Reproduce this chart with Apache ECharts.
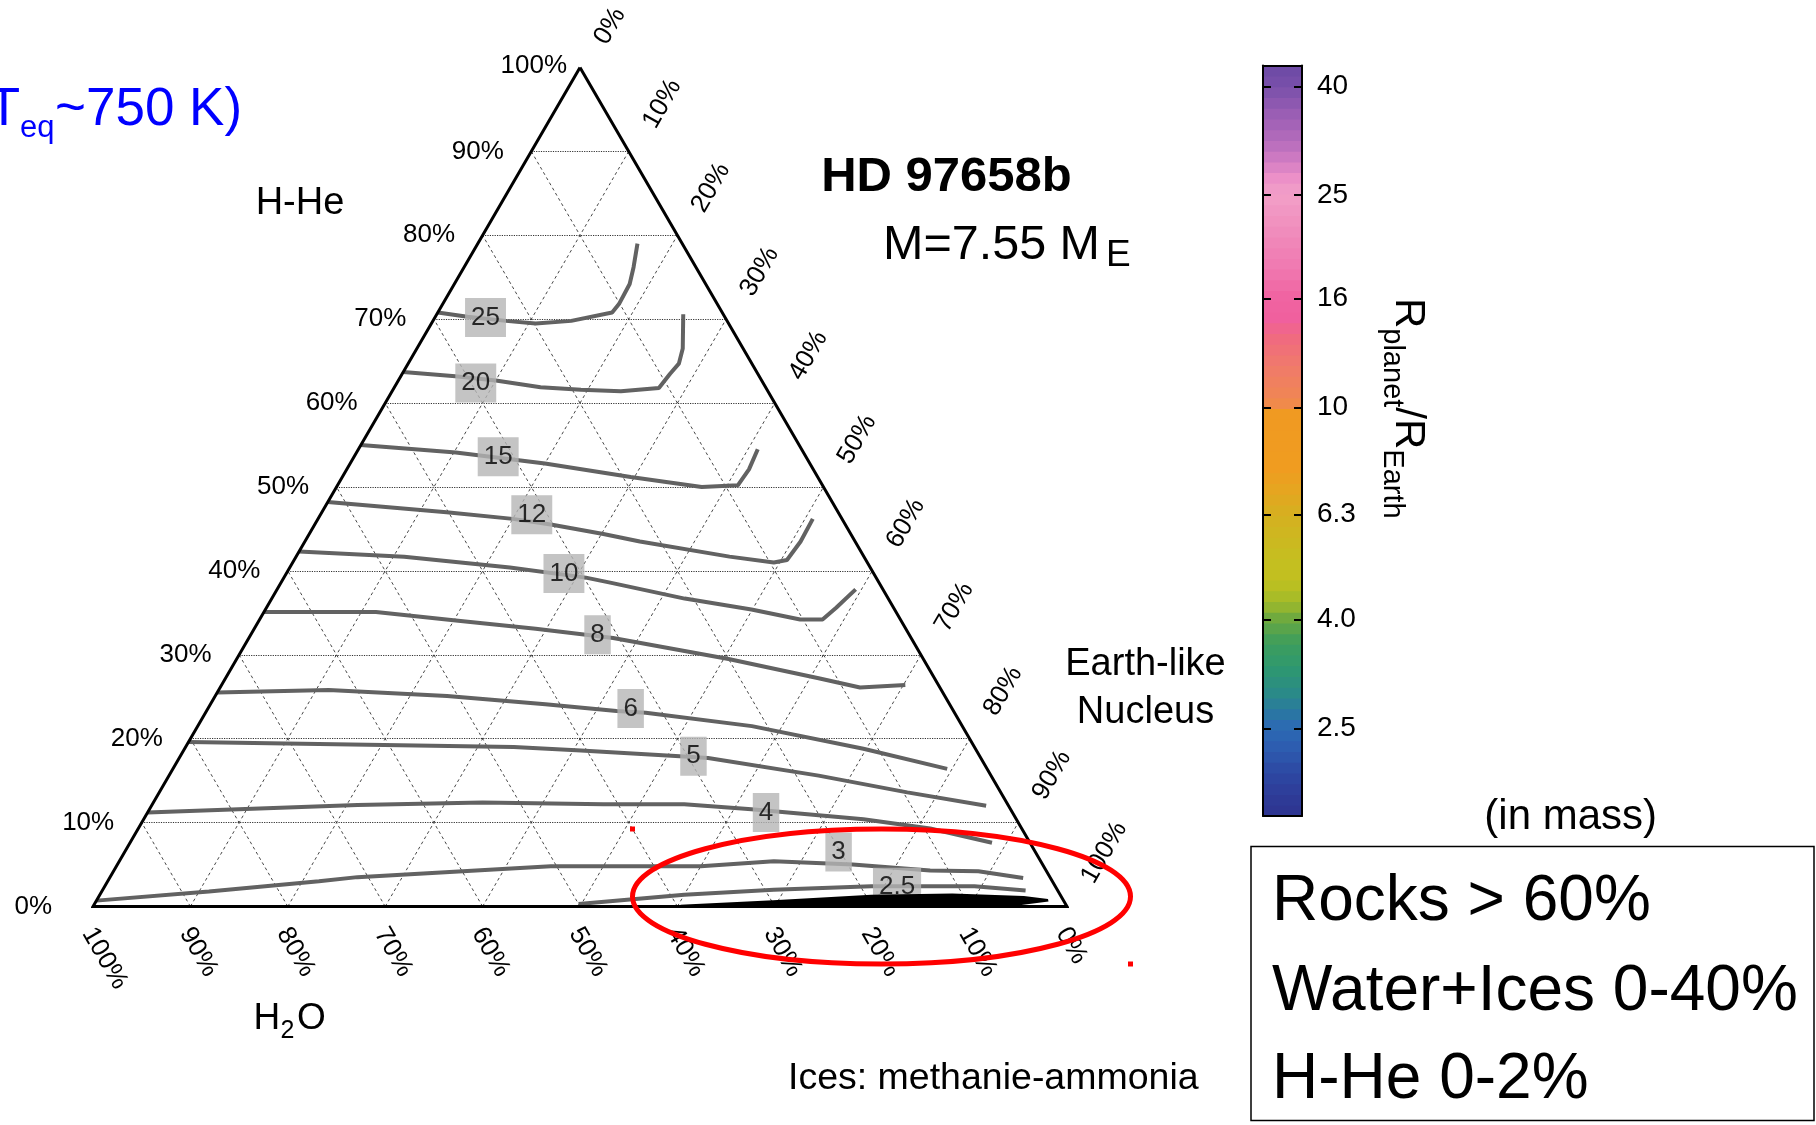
<!DOCTYPE html>
<html><head><meta charset="utf-8">
<script src="https://cdn.jsdelivr.net/npm/echarts@6/dist/echarts.min.js"></script>
<style>html,body{margin:0;padding:0;background:#fff}#c{width:1816px;height:1125px}</style>
</head><body><div id="c"></div>
<script>
// Ternary compositions: [H-He %, H2O %]  (rock = 100 - H-He - H2O)
const r25  = [[70.8,29.2],[70.3,26.4],[69.8,22.7],[69.5,19.8],[69.8,16.0],[70.8,11.3],[71.8,10.1],[74.2,7.8],[76.2,6.4],[79.0,4.6]];
const r20  = [[63.7,36.3],[63.2,31.2],[62.7,27.3],[61.9,23.1],[61.6,19.1],[61.4,15.1],[61.8,11.0],[63.5,9.0],[64.7,7.5],[66.5,6.2],[70.6,4.1]];
const r15  = [[55.0,45.0],[54.1,35.7],[53.2,29.7],[52.8,27.2],[51.2,19.2],[50.0,12.5],[50.2,8.7],[52.1,6.6],[54.5,4.5]];
const r12  = [[48.2,51.8],[47.0,40.2],[46.2,33.8],[45.5,30.1],[44.4,25.4],[43.5,22.1],[41.7,13.8],[41.0,9.6],[41.3,8.1],[43.5,5.6],[46.2,3.0]];
const r10  = [[42.3,57.7],[41.7,47.2],[40.4,37.0],[39.2,29.8],[38.6,27.6],[36.7,20.9],[35.4,14.7],[34.2,10.3],[34.2,8.0],[35.6,5.9],[37.8,2.8]];
const r8   = [[35.1,64.9],[35.1,53.4],[34.1,45.7],[33.1,38.0],[32.0,30.6],[29.5,20.0],[27.2,11.9],[26.1,8.2],[26.4,3.4]];
const r6   = [[25.5,74.5],[25.8,62.9],[25.1,51.1],[24.1,41.5],[23.3,34.6],[23.1,31.7],[21.5,21.6],[18.8,11.5],[16.4,4.1]];
const r5   = [[19.6,80.4],[19.0,47.3],[18.6,40.6],[17.9,30.8],[17.7,28.0],[15.6,17.7],[13.6,9.6],[12.0,2.3]];
const r4   = [[11.2,88.8],[12.1,66.8],[12.4,53.8],[12.2,41.5],[12.2,33.2],[11.6,26.6],[10.4,15.7],[9.3,9.4],[7.6,3.9]];
const r3   = [[0.7,99.3],[1.8,87.2],[3.0,75.3],[3.5,71.1],[4.8,50.6],[4.8,35.2],[5.4,27.4],[5.0,19.5],[4.3,11.9],[4.2,7.0],[3.4,2.8]];
const r2p5 = [[0.3,50.0],[1.4,38.6],[2.0,29.1],[2.4,18.9],[2.4,13.8],[2.4,8.3],[1.9,3.3]];
const contours = [r25, r20, r15, r12, r10, r8, r6, r5, r4, r3, r2p5];

// contour labels and their positions [H-He %, H2O %]
const contourLabels = ['25','20','15','12','10','8','6','5','4','3','2.5'];
const labelPos = [[70.2,24.6],[62.4,29.5],[53.6,31.6],[46.7,31.6],[39.7,31.8],[32.4,32.0],[23.6,33.0],[17.9,29.4],[11.2,25.3],[6.5,20.2],[2.3,16.3]];

// black solution region outline [H-He %, H2O %]
const blackRegion = [[0,39.4],[0.2,39.6],[0.75,29.8],[1.4,19.4],[1.55,11.0],[1.25,3.8],[0.9,1.5],[0.6,1.6],[0.15,4.8],[0,12]];

// axis ticks
const pctTicks = [0,10,20,30,40,50,60,70,80,90,100];
const tickLabels = ['0%','10%','20%','30%','40%','50%','60%','70%','80%','90%','100%'];
const gridTicks = [10,20,30,40,50,60,70,80,90];

// colour bar (R_planet/R_Earth, log scale)
const cbTicks = [2.5, 4.0, 6.3, 10, 16, 25, 40];
const cbTickLabels = ['2.5','4.0','6.3','10','16','25','40'];
const cbRange = [1.712, 43.75];

const FONT = '"Liberation Sans", Arial, Helvetica, sans-serif';
const T = (h, w) => [1 - w / 100 - h / 200, h / 100];

const cbMin = Math.log10(cbRange[0]), cbMax = Math.log10(cbRange[1]);
const cbTickPos = cbTicks.map(v => Math.log10(v));
const cbStops = [[0.2335,'#2e3490'],[0.28,'#2e3e9a'],[0.32,'#2d4aa4'],[0.36,'#2d5cb0'],[0.40,'#2c6ab4'],[0.43,'#2a78a0'],[0.464,'#2a8a88'],[0.511,'#2e9870'],[0.559,'#3e9e5c'],[0.602,'#6aa840'],[0.634,'#a0ba2a'],[0.674,'#c0c020'],[0.72,'#c6be20'],[0.80,'#d6b020'],[0.84,'#e4a620'],[0.887,'#f09c20'],[0.99,'#f09a22'],[1.01,'#f08850'],[1.07,'#f07c68'],[1.13,'#f06a80'],[1.17,'#f0609f'],[1.21,'#f064a2'],[1.26,'#f078b0'],[1.33,'#f08cbc'],[1.40,'#f2a0c8'],[1.43,'#ec90c8'],[1.46,'#d47ec4'],[1.50,'#b46cbc'],[1.55,'#9a5eb4'],[1.60,'#7a50aa'],[1.645,'#6a48a4']];
function hex2rgb(h){return [parseInt(h.substr(1,2),16),parseInt(h.substr(3,2),16),parseInt(h.substr(5,2),16)];}
function cbColor(v){
  if (v <= cbStops[0][0]) return cbStops[0][1];
  for (let i = 1; i < cbStops.length; i++) {
    if (v <= cbStops[i][0]) {
      const a = cbStops[i-1], b = cbStops[i], t = (v - a[0]) / (b[0] - a[0]);
      const c1 = hex2rgb(a[1]), c2 = hex2rgb(b[1]);
      return 'rgb(' + c1.map((c, k) => Math.round(c + (c2[k] - c) * t)).join(',') + ')';
    }
  }
  return cbStops[cbStops.length-1][1];
}
const nBands = 70;
const bands = [];
for (let i = 0; i < nBands; i++) {
  const lo = cbMin + (cbMax - cbMin) * i / nBands, hi = cbMin + (cbMax - cbMin) * (i + 1) / nBands;
  bands.push([0.5, (lo + hi) / 2, lo, hi]);
}
const bandColors = bands.map(b => cbColor(b[1]));

const chart = echarts.init(document.getElementById('c'), null, {renderer: 'canvas'});

const gridLineStyleH = {color: '#333', width: 1.2, type: 'dotted', opacity: 1};
const gridLineStyleD = {color: '#333', width: 0.9, type: [3, 3], opacity: 1};

const series = [];
series.push({type: 'lines', coordinateSystem: 'cartesian2d', silent: true, z: 1,
  data: gridTicks.map(t => ({coords: [T(t, 100 - t), T(t, 0)]})), lineStyle: gridLineStyleH});
series.push({type: 'lines', coordinateSystem: 'cartesian2d', silent: true, z: 1,
  data: gridTicks.map(t => ({coords: [T(0, t), T(100 - t, t)]})), lineStyle: gridLineStyleD});
series.push({type: 'lines', coordinateSystem: 'cartesian2d', silent: true, z: 1,
  data: gridTicks.map(t => ({coords: [T(0, 100 - t), T(100 - t, 0)]})), lineStyle: gridLineStyleD});
contours.forEach(c => series.push({type: 'line', data: c.map(p => T(p[0], p[1])), symbol: 'none', silent: true, z: 3,
  lineStyle: {color: '#626262', width: 4}}));
series.push({type: 'scatter', z: 5, silent: true, symbolSize: 1, itemStyle: {color: 'rgba(0,0,0,0)'},
  data: labelPos.map((p, i) => ({value: T(p[0], p[1]), name: contourLabels[i]})),
  label: {show: true, position: 'inside', formatter: '{b}', color: '#000', fontSize: 26, fontFamily: FONT,
    lineHeight: 26, backgroundColor: '#b5b5b5', padding: [7, 6, 6, 6]}});
series.push({type: 'custom', z: 6, silent: true, data: [[0, 0]],
  renderItem: (params, api) => ({type: 'polygon', shape: {points: blackRegion.map(p => api.coord(T(p[0], p[1])))}, style: {fill: '#000'}})});
series.push({type: 'lines', coordinateSystem: 'cartesian2d', polyline: true, silent: true, z: 7,
  data: [{coords: [T(100, 0), T(0, 100), T(0, 0), T(100, 0)]}], lineStyle: {color: '#000', width: 3, opacity: 1}});
series.push({type: 'custom', xAxisIndex: 1, yAxisIndex: 1, z: 2, silent: true, data: bands,
  renderItem: (params, api) => {
    const p1 = api.coord([0, api.value(3)]), p2 = api.coord([1, api.value(2)]);
    return {type: 'rect', shape: {x: p1[0], y: p1[1] - 0.4, width: p2[0] - p1[0], height: p2[1] - p1[1] + 0.8},
      style: {fill: bandColors[params.dataIndex]}};
  }});

const frameAxis = {axisLine: {show: true, onZero: false, lineStyle: {color: '#000', width: 2}}, axisTick: {show: false}, axisLabel: {show: false}, splitLine: {show: false}, z: 10};
function nearestLabel(v){let b = 0; cbTickPos.forEach((p, i) => {if (Math.abs(p - v) < Math.abs(cbTickPos[b] - v)) b = i;}); return cbTickLabels[b];}

const option = {
  animation: false,
  backgroundColor: '#fff',
  grid: [
    {left: 93, top: 67.5, width: 974, height: 839, show: false},
    {left: 1263, top: 65.5, width: 39, height: 750.5, show: false}
  ],
  xAxis: [
    {gridIndex: 0, type: 'value', min: 0, max: 1, show: false},
    Object.assign({gridIndex: 1, type: 'value', min: 0, max: 1, position: 'bottom'}, frameAxis),
    Object.assign({gridIndex: 1, type: 'value', min: 0, max: 1, position: 'top'}, frameAxis)
  ],
  yAxis: [
    {gridIndex: 0, type: 'value', min: 0, max: 1, show: false},
    {gridIndex: 1, type: 'value', min: cbMin, max: cbMax, position: 'left', z: 10,
      axisLine: {show: true, onZero: false, lineStyle: {color: '#000', width: 2}},
      axisTick: {show: true, inside: true, length: 8, lineStyle: {color: '#000', width: 2}, customValues: cbTickPos},
      axisLabel: {show: false}, splitLine: {show: false}},
    {gridIndex: 1, type: 'value', min: cbMin, max: cbMax, position: 'right', z: 10,
      axisLine: {show: true, onZero: false, lineStyle: {color: '#000', width: 2}},
      axisTick: {show: true, inside: true, length: 8, lineStyle: {color: '#000', width: 2}, customValues: cbTickPos},
      axisLabel: {show: true, customValues: cbTickPos, formatter: v => nearestLabel(v), color: '#000', fontSize: 28, fontFamily: FONT, margin: 15},
      splitLine: {show: false}}
  ],
  series: series
};
chart.setOption(option);

function txt(text, x, y, size, o) {
  o = o || {};
  return {type: 'text', x: x, y: y, z: 50, silent: true, rotation: o.rot || 0,
    style: {text: text, font: (o.weight || 'normal') + ' ' + size + 'px ' + FONT, fill: o.color || '#000',
      align: o.align || 'left', textAlign: o.align || 'left', verticalAlign: o.va || 'middle', textVerticalAlign: o.va || 'middle'}};
}
const px = v => chart.convertToPixel({gridIndex: 0}, v);
const g = [];
// left (H-He) tick labels
pctTicks.forEach((t, i) => {
  const p = px(T(t, 100 - t));
  const dx = t === 0 ? -41 : (t === 100 ? -13 : -27.5);
  g.push(txt(tickLabels[i], p[0] + dx, p[1] + (t === 100 ? -2 : 0), 26, {align: 'right'}));
});
// right (Earth-like nucleus) tick labels
pctTicks.forEach((t, i) => {
  const p = px(T(100 - t, 0));
  g.push(txt(tickLabels[i], p[0] + 20.5, p[1] - 25, 26, {rot: Math.PI / 3}));
});
// bottom (H2O) tick labels
pctTicks.forEach((t, i) => {
  const p = px(T(0, t));
  g.push(txt(tickLabels[i], p[0] - 5, p[1] + 23, 26, {rot: -Math.PI / 3}));
});
const blue = '#0000ff';
g.push(txt('(T', 20, 110.5, 53, {align: 'right', color: blue}));
g.push(txt('eq', 20, 128.5, 31, {color: blue}));
g.push(txt('~750 K)', 55, 110.8, 53, {color: blue}));
g.push(txt('H-He', 300, 203.5, 38, {align: 'center'}));
g.push(txt('HD 97658b', 946.5, 177, 49, {align: 'center', weight: 'bold'}));
g.push(txt('M=7.55 M', 883, 246, 48.5));
g.push(txt('E', 1106, 256, 37));
g.push(txt('Earth-like', 1145.5, 665, 38, {align: 'center'}));
g.push(txt('Nucleus', 1145.5, 713, 38, {align: 'center'}));
g.push(txt('H', 253.6, 1019, 37));
g.push(txt('2', 280.5, 1031, 25));
g.push(txt('O', 297, 1019, 37));
g.push(txt('Ices: methanie-ammonia', 788, 1079, 37.5));
g.push(txt('(in mass)', 1570.7, 817, 42, {align: 'center'}));
g.push({type: 'rect', z: 40, silent: true, shape: {x: 1251, y: 846.5, width: 563, height: 274}, style: {fill: 'none', stroke: '#000', lineWidth: 1.5}});
g.push(txt('Rocks > 60%', 1272, 902.3, 64));
g.push(txt('Water+Ices 0-40%', 1272, 992, 64));
g.push(txt('H-He 0-2%', 1272, 1080, 64));
g.push({type: 'group', x: 1408, y: 298, rotation: -Math.PI / 2, z: 50, silent: true, children: [
  txt('R', 0, 0, 42),
  txt('planet', 30.3, 16.5, 29),
  txt('/', 109.3, 0, 42),
  txt('R', 121, 0, 42),
  txt('Earth', 151.3, 16.5, 29)
]});
g.push({type: 'ellipse', z: 100, silent: true, shape: {cx: 881.5, cy: 896.5, rx: 249, ry: 67.5}, style: {fill: 'none', stroke: '#ff0000', lineWidth: 5}});
g.push({type: 'rect', z: 100, silent: true, shape: {x: 630, y: 826.5, width: 5, height: 5}, style: {fill: '#ff0000'}});
g.push({type: 'rect', z: 100, silent: true, shape: {x: 1128, y: 961.5, width: 5, height: 5}, style: {fill: '#ff0000'}});
chart.setOption({graphic: g});
</script>
</body></html>
